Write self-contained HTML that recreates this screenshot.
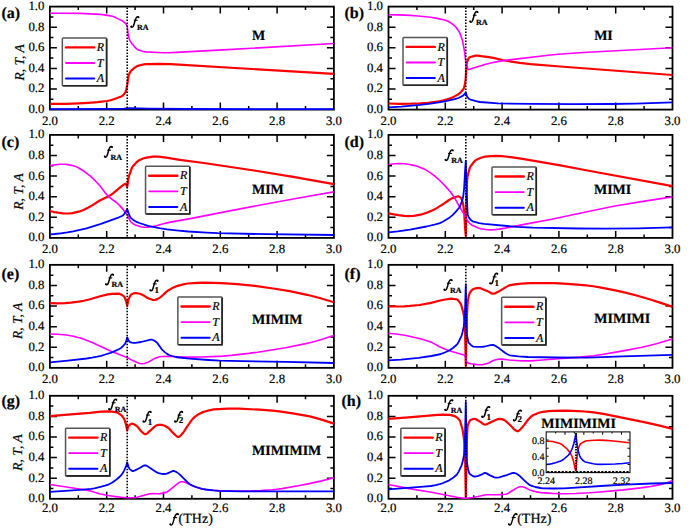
<!DOCTYPE html><html><head><meta charset="utf-8"><style>html,body{margin:0;padding:0;background:#fff;width:700px;height:528px;overflow:hidden}svg{display:block}</style></head><body>
<svg width="700" height="528" viewBox="0 0 700 528">
<style>
text{font-family:"Liberation Serif",serif;fill:#000;text-rendering:geometricPrecision;stroke:#000;stroke-width:0.2px}
.tk{font-size:12.8px}
.lg{font-size:12px;font-style:italic}
.pl{font-size:16px;font-weight:bold}
.st{font-size:14px;font-weight:bold}
.fi{font-size:14px;font-style:italic;font-weight:bold}
.sb{font-size:8px;font-weight:bold}
.sd{font-size:9px;font-weight:bold}
.sr{font-size:9px;font-weight:bold}
.yl{font-size:13.5px;font-style:italic}
.it{font-size:10px}
</style>
<rect width="700" height="528" fill="#fff"/>
<rect x="49.90" y="6.60" width="284.00" height="103.00" fill="none" stroke="#000" stroke-width="1.8"/>
<path d="M78.30,109.60v-3.50M78.30,6.60v3.50M49.90,99.30h3.50M333.90,99.30h-3.50M106.70,109.60v-7.00M106.70,6.60v7.00M49.90,89.00h7.00M333.90,89.00h-7.00M135.10,109.60v-3.50M135.10,6.60v3.50M49.90,78.70h3.50M333.90,78.70h-3.50M163.50,109.60v-7.00M163.50,6.60v7.00M49.90,68.40h7.00M333.90,68.40h-7.00M191.90,109.60v-3.50M191.90,6.60v3.50M49.90,58.10h3.50M333.90,58.10h-3.50M220.30,109.60v-7.00M220.30,6.60v7.00M49.90,47.80h7.00M333.90,47.80h-7.00M248.70,109.60v-3.50M248.70,6.60v3.50M49.90,37.50h3.50M333.90,37.50h-3.50M277.10,109.60v-7.00M277.10,6.60v7.00M49.90,27.20h7.00M333.90,27.20h-7.00M305.50,109.60v-3.50M305.50,6.60v3.50M49.90,16.90h3.50M333.90,16.90h-3.50" stroke="#000" stroke-width="1.5" fill="none"/>
<text x="44.40" y="113.00" text-anchor="end" class="tk">0.0</text>
<text x="44.40" y="92.40" text-anchor="end" class="tk">0.2</text>
<text x="44.40" y="71.80" text-anchor="end" class="tk">0.4</text>
<text x="44.40" y="51.20" text-anchor="end" class="tk">0.6</text>
<text x="44.40" y="30.60" text-anchor="end" class="tk">0.8</text>
<text x="44.40" y="10.00" text-anchor="end" class="tk">1.0</text>
<text x="49.90" y="125.00" text-anchor="middle" class="tk">2.0</text>
<text x="106.70" y="125.00" text-anchor="middle" class="tk">2.2</text>
<text x="163.50" y="125.00" text-anchor="middle" class="tk">2.4</text>
<text x="220.30" y="125.00" text-anchor="middle" class="tk">2.6</text>
<text x="277.10" y="125.00" text-anchor="middle" class="tk">2.8</text>
<text x="333.90" y="125.00" text-anchor="middle" class="tk">3.0</text>
<path d="M49.9,103.9 65.7,103.8 78.6,103.4 88.1,102.9 97.5,102.2 106.8,101.0 109.5,100.5 113.8,99.3 121.3,96.5 122.3,95.9 123.5,94.9 125.0,92.9 125.7,91.7 126.3,89.5 127.3,84.4 128.6,75.5 129.6,73.1 130.7,71.2 131.6,70.3 134.5,67.8 137.1,66.1 141.8,64.8 145.3,64.2 160.1,63.9 170.5,64.1 333.9,73.9" stroke="#ff0000" stroke-width="2.20" fill="none" stroke-linejoin="round"/>
<path d="M49.9,13.2 63.0,13.2 80.1,13.4 100.2,14.4 104.7,14.9 110.5,15.9 112.4,16.3 114.5,17.1 121.9,20.6 124.0,22.1 126.0,23.9 126.7,25.2 127.3,26.8 128.4,36.1 129.3,38.9 130.1,40.9 131.1,42.6 135.1,47.4 136.7,48.9 137.9,49.8 142.5,51.2 145.7,51.9 163.6,52.7 168.8,52.7 176.3,52.4 223.0,49.9 333.9,43.5" stroke="#ff00ff" stroke-width="1.60" fill="none" stroke-linejoin="round"/>
<path d="M49.9,109.2 109.7,108.9 123.9,108.6 129.4,108.1 148.4,108.6 187.6,109.0 269.9,109.2 333.9,109.2" stroke="#0000ff" stroke-width="1.80" fill="none" stroke-linejoin="round"/>
<path d="M127.20,7.60V108.60" stroke="#000" stroke-width="1.6" stroke-dasharray="1.5 1.5"/>
<rect x="62.35" y="37.95" width="44.3" height="47.8" fill="#fff" stroke="#555" stroke-width="1.5" rx="0.8"/>
<path d="M63.10,85.70H106.60V38.70" stroke="#222" stroke-width="1.6" fill="none"/>
<path d="M66.00,47.40H94.20" stroke="#ff0000" stroke-width="2.4" stroke-linecap="round"/>
<text x="96.80" y="51.00" class="lg">R</text>
<path d="M66.00,63.00H94.20" stroke="#ff00ff" stroke-width="1.8" stroke-linecap="round"/>
<text x="96.80" y="66.60" class="lg">T</text>
<path d="M66.00,78.60H94.20" stroke="#0000ff" stroke-width="2.0" stroke-linecap="round"/>
<text x="96.80" y="82.20" class="lg">A</text>
<text x="258.50" y="39.50" text-anchor="middle" class="st">M</text>
<text x="1.50" y="18.00" class="pl">(a)</text>
<text transform="translate(24.30,62.30) rotate(-90)" text-anchor="middle" class="yl">R, T, A</text>
<rect x="388.50" y="6.60" width="284.00" height="103.00" fill="none" stroke="#000" stroke-width="1.8"/>
<path d="M416.90,109.60v-3.50M416.90,6.60v3.50M388.50,99.30h3.50M672.50,99.30h-3.50M445.30,109.60v-7.00M445.30,6.60v7.00M388.50,89.00h7.00M672.50,89.00h-7.00M473.70,109.60v-3.50M473.70,6.60v3.50M388.50,78.70h3.50M672.50,78.70h-3.50M502.10,109.60v-7.00M502.10,6.60v7.00M388.50,68.40h7.00M672.50,68.40h-7.00M530.50,109.60v-3.50M530.50,6.60v3.50M388.50,58.10h3.50M672.50,58.10h-3.50M558.90,109.60v-7.00M558.90,6.60v7.00M388.50,47.80h7.00M672.50,47.80h-7.00M587.30,109.60v-3.50M587.30,6.60v3.50M388.50,37.50h3.50M672.50,37.50h-3.50M615.70,109.60v-7.00M615.70,6.60v7.00M388.50,27.20h7.00M672.50,27.20h-7.00M644.10,109.60v-3.50M644.10,6.60v3.50M388.50,16.90h3.50M672.50,16.90h-3.50" stroke="#000" stroke-width="1.5" fill="none"/>
<text x="383.00" y="113.00" text-anchor="end" class="tk">0.0</text>
<text x="383.00" y="92.40" text-anchor="end" class="tk">0.2</text>
<text x="383.00" y="71.80" text-anchor="end" class="tk">0.4</text>
<text x="383.00" y="51.20" text-anchor="end" class="tk">0.6</text>
<text x="383.00" y="30.60" text-anchor="end" class="tk">0.8</text>
<text x="383.00" y="10.00" text-anchor="end" class="tk">1.0</text>
<text x="388.50" y="125.00" text-anchor="middle" class="tk">2.0</text>
<text x="445.30" y="125.00" text-anchor="middle" class="tk">2.2</text>
<text x="502.10" y="125.00" text-anchor="middle" class="tk">2.4</text>
<text x="558.90" y="125.00" text-anchor="middle" class="tk">2.6</text>
<text x="615.70" y="125.00" text-anchor="middle" class="tk">2.8</text>
<text x="672.50" y="125.00" text-anchor="middle" class="tk">3.0</text>
<path d="M388.5,103.5 399.4,103.8 411.1,103.7 420.2,103.4 427.8,102.8 439.2,101.3 442.3,100.7 450.3,98.4 454.5,96.4 458.4,94.2 459.5,93.4 461.1,91.8 463.3,89.2 463.9,88.2 464.8,84.9 465.6,79.8 466.6,63.7 467.5,60.9 468.3,58.9 469.0,57.8 469.6,57.3 473.8,56.1 475.7,55.7 477.0,55.7 479.2,55.9 488.6,57.1 493.2,57.9 502.4,60.0 507.6,61.0 519.8,62.8 530.5,64.1 560.2,66.5 672.5,75.0" stroke="#ff0000" stroke-width="2.20" fill="none" stroke-linejoin="round"/>
<path d="M388.5,14.8 397.9,14.9 410.4,15.4 418.0,16.0 430.7,17.3 437.2,18.4 445.7,20.3 448.1,21.3 451.1,23.1 454.2,25.4 455.8,27.0 459.2,31.9 460.5,34.7 462.5,40.8 463.3,44.5 464.6,51.8 465.7,61.2 466.2,63.7 467.6,68.3 468.2,69.3 468.6,69.5 485.8,64.2 492.0,62.7 498.7,61.4 509.2,59.9 552.7,54.8 564.9,53.7 583.3,52.5 672.5,47.8" stroke="#ff00ff" stroke-width="1.60" fill="none" stroke-linejoin="round"/>
<path d="M388.5,107.3 401.1,106.6 420.2,104.9 430.6,103.6 443.4,101.7 452.7,99.6 456.4,98.7 458.3,98.0 460.7,96.9 463.2,95.5 464.2,94.5 465.8,92.6 466.8,95.8 467.4,97.0 468.8,98.7 469.8,99.3 476.0,101.2 479.9,102.0 498.1,103.4 530.0,103.9 573.5,104.1 610.3,104.0 635.8,103.6 672.5,102.4" stroke="#0000ff" stroke-width="1.80" fill="none" stroke-linejoin="round"/>
<path d="M465.80,7.60V108.60" stroke="#000" stroke-width="1.6" stroke-dasharray="1.5 1.5"/>
<rect x="403.00" y="37.45" width="44.3" height="47.8" fill="#fff" stroke="#555" stroke-width="1.5" rx="0.8"/>
<path d="M403.75,85.20H447.25V38.20" stroke="#222" stroke-width="1.6" fill="none"/>
<path d="M406.65,46.90H434.85" stroke="#ff0000" stroke-width="2.4" stroke-linecap="round"/>
<text x="437.45" y="50.50" class="lg">R</text>
<path d="M406.65,62.50H434.85" stroke="#ff00ff" stroke-width="1.8" stroke-linecap="round"/>
<text x="437.45" y="66.10" class="lg">T</text>
<path d="M406.65,78.10H434.85" stroke="#0000ff" stroke-width="2.0" stroke-linecap="round"/>
<text x="437.45" y="81.70" class="lg">A</text>
<text x="603.50" y="39.60" text-anchor="middle" class="st">MI</text>
<text x="344.50" y="18.00" class="pl">(b)</text>
<rect x="49.90" y="134.90" width="284.00" height="103.00" fill="none" stroke="#000" stroke-width="1.8"/>
<path d="M78.30,237.90v-3.50M78.30,134.90v3.50M49.90,227.60h3.50M333.90,227.60h-3.50M106.70,237.90v-7.00M106.70,134.90v7.00M49.90,217.30h7.00M333.90,217.30h-7.00M135.10,237.90v-3.50M135.10,134.90v3.50M49.90,207.00h3.50M333.90,207.00h-3.50M163.50,237.90v-7.00M163.50,134.90v7.00M49.90,196.70h7.00M333.90,196.70h-7.00M191.90,237.90v-3.50M191.90,134.90v3.50M49.90,186.40h3.50M333.90,186.40h-3.50M220.30,237.90v-7.00M220.30,134.90v7.00M49.90,176.10h7.00M333.90,176.10h-7.00M248.70,237.90v-3.50M248.70,134.90v3.50M49.90,165.80h3.50M333.90,165.80h-3.50M277.10,237.90v-7.00M277.10,134.90v7.00M49.90,155.50h7.00M333.90,155.50h-7.00M305.50,237.90v-3.50M305.50,134.90v3.50M49.90,145.20h3.50M333.90,145.20h-3.50" stroke="#000" stroke-width="1.5" fill="none"/>
<text x="44.40" y="241.30" text-anchor="end" class="tk">0.0</text>
<text x="44.40" y="220.70" text-anchor="end" class="tk">0.2</text>
<text x="44.40" y="200.10" text-anchor="end" class="tk">0.4</text>
<text x="44.40" y="179.50" text-anchor="end" class="tk">0.6</text>
<text x="44.40" y="158.90" text-anchor="end" class="tk">0.8</text>
<text x="44.40" y="138.30" text-anchor="end" class="tk">1.0</text>
<text x="49.90" y="253.30" text-anchor="middle" class="tk">2.0</text>
<text x="106.70" y="253.30" text-anchor="middle" class="tk">2.2</text>
<text x="163.50" y="253.30" text-anchor="middle" class="tk">2.4</text>
<text x="220.30" y="253.30" text-anchor="middle" class="tk">2.6</text>
<text x="277.10" y="253.30" text-anchor="middle" class="tk">2.8</text>
<text x="333.90" y="253.30" text-anchor="middle" class="tk">3.0</text>
<path d="M49.9,211.0 54.4,212.1 58.0,212.7 63.1,213.3 67.4,213.5 69.8,213.4 72.4,213.1 79.6,211.4 83.4,209.9 88.4,207.5 92.2,205.4 99.8,200.5 107.6,196.7 110.3,195.3 113.3,193.2 121.4,186.3 124.2,184.4 125.5,183.9 125.8,184.0 126.4,184.9 127.2,187.0 128.3,179.4 129.2,175.3 131.5,169.0 132.3,167.2 133.2,165.9 137.0,161.8 138.4,160.7 139.7,159.9 143.1,158.5 145.4,157.8 152.9,156.6 155.3,156.5 158.2,156.7 166.4,157.6 179.8,159.8 203.8,163.0 254.1,170.5 291.7,176.6 333.9,184.1" stroke="#ff0000" stroke-width="2.20" fill="none" stroke-linejoin="round"/>
<path d="M49.9,165.6 55.7,164.7 60.4,164.2 64.4,164.2 68.1,164.6 73.5,165.7 75.5,166.4 78.3,167.8 83.6,171.0 86.5,173.1 90.1,175.9 95.2,180.7 99.9,185.8 105.7,193.4 108.3,196.3 110.7,198.4 116.5,202.5 120.0,205.9 123.5,209.9 126.9,214.5 127.9,216.2 130.1,220.8 130.7,221.7 131.7,222.7 133.3,223.9 134.8,224.7 140.8,226.7 144.2,227.3 148.0,227.3 152.0,226.8 156.3,225.8 166.1,223.1 171.7,221.9 191.6,218.4 228.5,211.1 270.0,203.2 302.9,197.2 333.9,191.9" stroke="#ff00ff" stroke-width="1.60" fill="none" stroke-linejoin="round"/>
<path d="M49.9,234.4 54.7,234.0 60.7,233.3 67.4,232.4 73.2,231.3 86.6,228.3 100.2,224.2 119.0,217.3 122.4,215.8 123.4,215.0 124.4,213.8 127.2,209.1 129.2,215.0 130.5,217.6 133.3,219.9 136.6,221.9 139.3,223.0 148.1,225.8 159.3,228.1 167.1,229.3 178.6,230.6 188.3,231.5 206.5,232.7 217.7,233.2 266.1,234.2 333.9,235.0" stroke="#0000ff" stroke-width="1.80" fill="none" stroke-linejoin="round"/>
<path d="M127.20,135.90V236.90" stroke="#000" stroke-width="1.6" stroke-dasharray="1.5 1.5"/>
<rect x="145.55" y="166.25" width="44.3" height="47.8" fill="#fff" stroke="#555" stroke-width="1.5" rx="0.8"/>
<path d="M146.30,214.00H189.80V167.00" stroke="#222" stroke-width="1.6" fill="none"/>
<path d="M149.20,175.70H177.40" stroke="#ff0000" stroke-width="2.4" stroke-linecap="round"/>
<text x="180.00" y="179.30" class="lg">R</text>
<path d="M149.20,191.30H177.40" stroke="#ff00ff" stroke-width="1.8" stroke-linecap="round"/>
<text x="180.00" y="194.90" class="lg">T</text>
<path d="M149.20,206.90H177.40" stroke="#0000ff" stroke-width="2.0" stroke-linecap="round"/>
<text x="180.00" y="210.50" class="lg">A</text>
<text x="267.90" y="194.40" text-anchor="middle" class="st">MIM</text>
<text x="1.50" y="147.30" class="pl">(c)</text>
<text transform="translate(23.30,191.50) rotate(-90)" text-anchor="middle" class="yl">R, T, A</text>
<rect x="388.50" y="134.90" width="284.00" height="103.00" fill="none" stroke="#000" stroke-width="1.8"/>
<path d="M416.90,237.90v-3.50M416.90,134.90v3.50M388.50,227.60h3.50M672.50,227.60h-3.50M445.30,237.90v-7.00M445.30,134.90v7.00M388.50,217.30h7.00M672.50,217.30h-7.00M473.70,237.90v-3.50M473.70,134.90v3.50M388.50,207.00h3.50M672.50,207.00h-3.50M502.10,237.90v-7.00M502.10,134.90v7.00M388.50,196.70h7.00M672.50,196.70h-7.00M530.50,237.90v-3.50M530.50,134.90v3.50M388.50,186.40h3.50M672.50,186.40h-3.50M558.90,237.90v-7.00M558.90,134.90v7.00M388.50,176.10h7.00M672.50,176.10h-7.00M587.30,237.90v-3.50M587.30,134.90v3.50M388.50,165.80h3.50M672.50,165.80h-3.50M615.70,237.90v-7.00M615.70,134.90v7.00M388.50,155.50h7.00M672.50,155.50h-7.00M644.10,237.90v-3.50M644.10,134.90v3.50M388.50,145.20h3.50M672.50,145.20h-3.50" stroke="#000" stroke-width="1.5" fill="none"/>
<text x="383.00" y="241.30" text-anchor="end" class="tk">0.0</text>
<text x="383.00" y="220.70" text-anchor="end" class="tk">0.2</text>
<text x="383.00" y="200.10" text-anchor="end" class="tk">0.4</text>
<text x="383.00" y="179.50" text-anchor="end" class="tk">0.6</text>
<text x="383.00" y="158.90" text-anchor="end" class="tk">0.8</text>
<text x="383.00" y="138.30" text-anchor="end" class="tk">1.0</text>
<text x="388.50" y="253.30" text-anchor="middle" class="tk">2.0</text>
<text x="445.30" y="253.30" text-anchor="middle" class="tk">2.2</text>
<text x="502.10" y="253.30" text-anchor="middle" class="tk">2.4</text>
<text x="558.90" y="253.30" text-anchor="middle" class="tk">2.6</text>
<text x="615.70" y="253.30" text-anchor="middle" class="tk">2.8</text>
<text x="672.50" y="253.30" text-anchor="middle" class="tk">3.0</text>
<path d="M388.5,213.4 393.9,214.4 398.4,215.1 404.3,215.8 408.7,216.1 411.1,216.0 413.8,215.8 421.9,214.3 427.3,212.6 433.8,209.7 437.1,207.9 443.1,204.1 449.0,200.0 451.6,198.6 455.7,197.0 458.0,196.4 458.7,196.4 460.8,197.7 461.3,198.3 462.8,202.7 463.2,204.6 464.2,211.9 465.1,228.4 465.8,235.8 466.4,194.2 466.8,184.5 467.4,177.1 469.5,168.8 470.1,167.2 470.6,166.2 474.3,161.5 475.5,160.4 476.5,159.7 480.9,157.8 483.6,157.0 485.1,156.7 490.9,156.1 496.3,155.8 501.9,156.1 512.7,157.3 522.5,158.8 560.4,165.4 587.4,170.5 672.5,186.1" stroke="#ff0000" stroke-width="2.20" fill="none" stroke-linejoin="round"/>
<path d="M388.5,164.5 394.7,163.8 400.0,163.6 404.3,163.7 408.5,164.3 414.9,165.6 418.5,166.7 425.3,169.6 428.7,171.6 434.5,175.8 440.3,181.0 445.3,186.1 450.7,192.3 453.0,195.4 454.8,198.2 459.1,206.2 464.3,214.7 466.3,219.2 468.0,221.4 469.7,223.3 471.0,224.5 472.3,225.3 478.1,227.9 480.8,228.7 487.5,229.7 490.7,229.9 494.1,229.7 499.0,229.1 505.4,228.1 523.0,224.6 551.7,219.2 587.0,211.7 613.7,206.3 641.3,201.6 672.5,196.9" stroke="#ff00ff" stroke-width="1.60" fill="none" stroke-linejoin="round"/>
<path d="M388.5,232.3 397.7,231.4 410.1,229.6 426.4,226.5 435.5,224.3 439.8,223.1 442.8,221.7 449.7,217.4 452.3,215.4 455.4,212.2 459.4,207.5 460.8,204.3 462.8,198.5 463.5,194.3 464.2,187.3 465.1,170.3 465.8,160.9 466.7,192.4 467.5,211.6 467.9,214.9 468.4,216.9 470.9,220.0 471.8,220.8 472.6,221.3 479.2,223.1 484.1,223.8 517.2,226.9 532.6,227.6 578.5,228.5 605.7,228.7 638.1,228.4 672.5,227.4" stroke="#0000ff" stroke-width="1.80" fill="none" stroke-linejoin="round"/>
<path d="M465.80,135.90V236.90" stroke="#000" stroke-width="1.6" stroke-dasharray="1.5 1.5"/>
<rect x="492.00" y="167.00" width="44.3" height="47.8" fill="#fff" stroke="#555" stroke-width="1.5" rx="0.8"/>
<path d="M492.75,214.75H536.25V167.75" stroke="#222" stroke-width="1.6" fill="none"/>
<path d="M495.65,176.45H523.85" stroke="#ff0000" stroke-width="2.4" stroke-linecap="round"/>
<text x="526.45" y="180.05" class="lg">R</text>
<path d="M495.65,192.05H523.85" stroke="#ff00ff" stroke-width="1.8" stroke-linecap="round"/>
<text x="526.45" y="195.65" class="lg">T</text>
<path d="M495.65,207.65H523.85" stroke="#0000ff" stroke-width="2.0" stroke-linecap="round"/>
<text x="526.45" y="211.25" class="lg">A</text>
<text x="612.60" y="194.40" text-anchor="middle" class="st">MIMI</text>
<text x="344.50" y="147.30" class="pl">(d)</text>
<rect x="49.90" y="264.85" width="284.00" height="103.00" fill="none" stroke="#000" stroke-width="1.8"/>
<path d="M78.30,367.85v-3.50M78.30,264.85v3.50M49.90,357.55h3.50M333.90,357.55h-3.50M106.70,367.85v-7.00M106.70,264.85v7.00M49.90,347.25h7.00M333.90,347.25h-7.00M135.10,367.85v-3.50M135.10,264.85v3.50M49.90,336.95h3.50M333.90,336.95h-3.50M163.50,367.85v-7.00M163.50,264.85v7.00M49.90,326.65h7.00M333.90,326.65h-7.00M191.90,367.85v-3.50M191.90,264.85v3.50M49.90,316.35h3.50M333.90,316.35h-3.50M220.30,367.85v-7.00M220.30,264.85v7.00M49.90,306.05h7.00M333.90,306.05h-7.00M248.70,367.85v-3.50M248.70,264.85v3.50M49.90,295.75h3.50M333.90,295.75h-3.50M277.10,367.85v-7.00M277.10,264.85v7.00M49.90,285.45h7.00M333.90,285.45h-7.00M305.50,367.85v-3.50M305.50,264.85v3.50M49.90,275.15h3.50M333.90,275.15h-3.50" stroke="#000" stroke-width="1.5" fill="none"/>
<text x="44.40" y="371.25" text-anchor="end" class="tk">0.0</text>
<text x="44.40" y="350.65" text-anchor="end" class="tk">0.2</text>
<text x="44.40" y="330.05" text-anchor="end" class="tk">0.4</text>
<text x="44.40" y="309.45" text-anchor="end" class="tk">0.6</text>
<text x="44.40" y="288.85" text-anchor="end" class="tk">0.8</text>
<text x="44.40" y="268.25" text-anchor="end" class="tk">1.0</text>
<text x="49.90" y="383.25" text-anchor="middle" class="tk">2.0</text>
<text x="106.70" y="383.25" text-anchor="middle" class="tk">2.2</text>
<text x="163.50" y="383.25" text-anchor="middle" class="tk">2.4</text>
<text x="220.30" y="383.25" text-anchor="middle" class="tk">2.6</text>
<text x="277.10" y="383.25" text-anchor="middle" class="tk">2.8</text>
<text x="333.90" y="383.25" text-anchor="middle" class="tk">3.0</text>
<path d="M49.9,303.2 57.6,303.3 65.1,303.1 70.8,302.7 78.7,301.7 83.7,300.8 90.1,299.3 99.2,296.5 107.9,294.4 112.1,293.8 118.5,293.7 119.8,293.9 121.1,294.5 122.9,295.6 124.4,296.8 125.1,298.3 126.4,302.2 127.2,305.9 128.5,299.4 129.8,296.6 130.6,295.2 131.3,294.4 134.0,293.3 135.2,293.1 136.6,293.2 138.6,293.5 140.6,294.0 142.7,294.9 147.2,297.7 149.4,298.7 152.6,299.8 153.9,300.0 155.0,299.9 157.3,299.1 160.6,297.1 162.3,295.7 166.0,292.1 167.7,290.8 172.2,288.1 175.9,286.4 183.2,284.4 187.9,283.5 197.2,282.9 204.5,282.7 221.4,283.1 237.3,284.2 254.9,285.9 273.2,288.5 289.7,291.2 307.1,294.8 318.8,297.8 333.9,302.3" stroke="#ff0000" stroke-width="2.20" fill="none" stroke-linejoin="round"/>
<path d="M49.9,334.0 57.6,334.2 66.5,335.0 73.3,336.3 82.0,338.6 87.1,340.5 92.9,342.8 111.0,351.3 127.0,357.5 132.8,360.6 137.1,362.5 139.8,363.5 142.1,363.8 144.5,363.5 147.3,362.6 149.0,361.8 153.6,359.1 157.7,357.3 159.5,356.8 162.5,356.5 167.6,356.2 184.2,357.0 190.8,357.1 200.3,357.0 211.4,356.6 222.9,356.1 231.2,355.4 248.8,353.4 257.6,352.2 285.6,347.7 304.6,343.9 310.8,342.5 317.4,340.7 333.9,335.6" stroke="#ff00ff" stroke-width="1.60" fill="none" stroke-linejoin="round"/>
<path d="M49.9,362.4 67.9,360.7 86.8,358.5 92.1,357.7 97.1,356.7 101.1,355.8 105.3,354.5 110.6,352.8 114.7,351.1 118.8,349.3 121.0,347.9 123.1,346.0 125.2,343.6 126.1,341.4 127.2,337.3 128.6,340.6 129.5,341.8 131.8,342.6 133.7,342.9 135.4,342.9 141.1,342.0 150.6,339.7 151.8,339.7 152.9,340.0 154.8,341.0 156.9,342.5 158.0,343.9 161.6,349.1 164.7,352.1 167.1,353.9 169.1,355.0 172.1,356.0 175.8,357.0 178.9,357.5 189.6,358.7 208.5,360.0 219.7,360.6 242.3,361.2 285.3,361.9 333.9,363.0" stroke="#0000ff" stroke-width="1.80" fill="none" stroke-linejoin="round"/>
<path d="M127.20,265.85V366.85" stroke="#000" stroke-width="1.6" stroke-dasharray="1.5 1.5"/>
<rect x="177.85" y="297.00" width="44.3" height="47.8" fill="#fff" stroke="#555" stroke-width="1.5" rx="0.8"/>
<path d="M178.60,344.75H222.10V297.75" stroke="#222" stroke-width="1.6" fill="none"/>
<path d="M181.50,306.45H209.70" stroke="#ff0000" stroke-width="2.4" stroke-linecap="round"/>
<text x="212.30" y="310.05" class="lg">R</text>
<path d="M181.50,322.05H209.70" stroke="#ff00ff" stroke-width="1.8" stroke-linecap="round"/>
<text x="212.30" y="325.65" class="lg">T</text>
<path d="M181.50,337.65H209.70" stroke="#0000ff" stroke-width="2.0" stroke-linecap="round"/>
<text x="212.30" y="341.25" class="lg">A</text>
<text x="277.30" y="324.00" text-anchor="middle" class="st">MIMIM</text>
<text x="1.50" y="279.10" class="pl">(e)</text>
<text transform="translate(21.50,320.90) rotate(-90)" text-anchor="middle" class="yl">R, T, A</text>
<rect x="388.50" y="264.85" width="284.00" height="103.00" fill="none" stroke="#000" stroke-width="1.8"/>
<path d="M416.90,367.85v-3.50M416.90,264.85v3.50M388.50,357.55h3.50M672.50,357.55h-3.50M445.30,367.85v-7.00M445.30,264.85v7.00M388.50,347.25h7.00M672.50,347.25h-7.00M473.70,367.85v-3.50M473.70,264.85v3.50M388.50,336.95h3.50M672.50,336.95h-3.50M502.10,367.85v-7.00M502.10,264.85v7.00M388.50,326.65h7.00M672.50,326.65h-7.00M530.50,367.85v-3.50M530.50,264.85v3.50M388.50,316.35h3.50M672.50,316.35h-3.50M558.90,367.85v-7.00M558.90,264.85v7.00M388.50,306.05h7.00M672.50,306.05h-7.00M587.30,367.85v-3.50M587.30,264.85v3.50M388.50,295.75h3.50M672.50,295.75h-3.50M615.70,367.85v-7.00M615.70,264.85v7.00M388.50,285.45h7.00M672.50,285.45h-7.00M644.10,367.85v-3.50M644.10,264.85v3.50M388.50,275.15h3.50M672.50,275.15h-3.50" stroke="#000" stroke-width="1.5" fill="none"/>
<text x="383.00" y="371.25" text-anchor="end" class="tk">0.0</text>
<text x="383.00" y="350.65" text-anchor="end" class="tk">0.2</text>
<text x="383.00" y="330.05" text-anchor="end" class="tk">0.4</text>
<text x="383.00" y="309.45" text-anchor="end" class="tk">0.6</text>
<text x="383.00" y="288.85" text-anchor="end" class="tk">0.8</text>
<text x="383.00" y="268.25" text-anchor="end" class="tk">1.0</text>
<text x="388.50" y="383.25" text-anchor="middle" class="tk">2.0</text>
<text x="445.30" y="383.25" text-anchor="middle" class="tk">2.2</text>
<text x="502.10" y="383.25" text-anchor="middle" class="tk">2.4</text>
<text x="558.90" y="383.25" text-anchor="middle" class="tk">2.6</text>
<text x="615.70" y="383.25" text-anchor="middle" class="tk">2.8</text>
<text x="672.50" y="383.25" text-anchor="middle" class="tk">3.0</text>
<path d="M388.5,306.4 396.5,306.5 404.1,306.3 410.2,305.9 419.2,305.0 424.3,304.2 430.1,303.1 440.2,300.5 445.3,299.5 449.6,298.8 451.6,298.7 453.9,299.0 456.7,299.4 457.6,299.9 458.6,300.9 460.4,303.3 461.0,304.4 463.2,312.0 464.0,316.2 464.7,322.7 465.0,328.3 465.8,365.8 466.8,318.5 467.4,306.8 467.8,301.1 468.9,295.3 469.8,292.8 471.8,290.3 472.8,289.4 473.5,289.0 475.6,288.4 478.3,287.9 480.9,288.4 487.1,290.9 491.4,293.3 492.4,293.7 493.2,293.7 495.2,293.3 498.6,291.6 505.0,287.6 509.1,285.4 514.7,284.4 521.6,283.6 530.0,283.1 553.9,283.2 567.8,283.8 583.4,285.1 591.7,286.0 599.9,287.3 616.5,290.6 625.3,292.6 636.6,295.5 649.5,299.2 660.1,302.6 672.5,306.9" stroke="#ff0000" stroke-width="2.20" fill="none" stroke-linejoin="round"/>
<path d="M388.5,333.3 396.2,334.0 406.0,335.5 421.2,339.0 428.5,341.2 432.1,342.6 439.1,346.5 445.3,349.2 451.0,351.2 464.8,355.3 465.2,355.9 465.7,357.4 466.3,361.7 466.5,362.0 467.9,362.8 469.3,363.4 470.9,363.7 477.2,364.6 479.9,364.8 482.5,364.6 485.5,364.0 489.3,362.7 492.7,360.7 494.0,360.2 497.1,359.5 499.7,359.1 502.2,359.1 509.3,360.0 519.4,360.7 525.2,360.9 530.4,360.9 539.3,360.3 558.2,358.7 580.2,357.1 593.5,355.8 602.2,354.5 623.1,350.9 642.0,347.3 648.5,345.8 655.5,344.0 672.5,339.0" stroke="#ff00ff" stroke-width="1.60" fill="none" stroke-linejoin="round"/>
<path d="M388.5,360.3 401.0,359.6 418.5,357.9 431.3,356.0 438.7,354.5 440.8,354.0 443.1,353.2 449.7,350.2 452.9,348.0 456.7,344.7 457.6,343.6 458.6,342.0 461.5,335.8 462.5,332.4 463.8,326.4 464.4,320.0 465.1,307.6 465.8,284.4 466.4,318.3 466.9,334.3 467.9,340.1 468.6,342.7 471.5,345.6 473.0,346.6 478.3,346.9 482.3,346.8 484.7,346.5 490.5,345.1 493.2,344.9 494.4,345.3 495.6,346.0 499.5,348.6 504.9,352.8 507.4,354.3 509.0,355.0 510.0,355.3 518.4,356.3 528.0,357.0 555.9,357.5 587.1,357.6 622.9,356.3 672.5,354.9" stroke="#0000ff" stroke-width="1.80" fill="none" stroke-linejoin="round"/>
<path d="M465.80,265.85V366.85" stroke="#000" stroke-width="1.6" stroke-dasharray="1.5 1.5"/>
<rect x="501.65" y="297.25" width="44.3" height="47.8" fill="#fff" stroke="#555" stroke-width="1.5" rx="0.8"/>
<path d="M502.40,345.00H545.90V298.00" stroke="#222" stroke-width="1.6" fill="none"/>
<path d="M505.30,306.70H533.50" stroke="#ff0000" stroke-width="2.4" stroke-linecap="round"/>
<text x="536.10" y="310.30" class="lg">R</text>
<path d="M505.30,322.30H533.50" stroke="#ff00ff" stroke-width="1.8" stroke-linecap="round"/>
<text x="536.10" y="325.90" class="lg">T</text>
<path d="M505.30,337.90H533.50" stroke="#0000ff" stroke-width="2.0" stroke-linecap="round"/>
<text x="536.10" y="341.50" class="lg">A</text>
<text x="622.30" y="323.40" text-anchor="middle" class="st">MIMIMI</text>
<text x="344.50" y="279.10" class="pl">(f)</text>
<rect x="49.90" y="395.80" width="284.00" height="103.00" fill="none" stroke="#000" stroke-width="1.8"/>
<path d="M78.30,498.80v-3.50M78.30,395.80v3.50M49.90,488.50h3.50M333.90,488.50h-3.50M106.70,498.80v-7.00M106.70,395.80v7.00M49.90,478.20h7.00M333.90,478.20h-7.00M135.10,498.80v-3.50M135.10,395.80v3.50M49.90,467.90h3.50M333.90,467.90h-3.50M163.50,498.80v-7.00M163.50,395.80v7.00M49.90,457.60h7.00M333.90,457.60h-7.00M191.90,498.80v-3.50M191.90,395.80v3.50M49.90,447.30h3.50M333.90,447.30h-3.50M220.30,498.80v-7.00M220.30,395.80v7.00M49.90,437.00h7.00M333.90,437.00h-7.00M248.70,498.80v-3.50M248.70,395.80v3.50M49.90,426.70h3.50M333.90,426.70h-3.50M277.10,498.80v-7.00M277.10,395.80v7.00M49.90,416.40h7.00M333.90,416.40h-7.00M305.50,498.80v-3.50M305.50,395.80v3.50M49.90,406.10h3.50M333.90,406.10h-3.50" stroke="#000" stroke-width="1.5" fill="none"/>
<text x="44.40" y="502.20" text-anchor="end" class="tk">0.0</text>
<text x="44.40" y="481.60" text-anchor="end" class="tk">0.2</text>
<text x="44.40" y="461.00" text-anchor="end" class="tk">0.4</text>
<text x="44.40" y="440.40" text-anchor="end" class="tk">0.6</text>
<text x="44.40" y="419.80" text-anchor="end" class="tk">0.8</text>
<text x="44.40" y="399.20" text-anchor="end" class="tk">1.0</text>
<text x="49.90" y="512.40" text-anchor="middle" class="tk">2.0</text>
<text x="106.70" y="512.40" text-anchor="middle" class="tk">2.2</text>
<text x="163.50" y="512.40" text-anchor="middle" class="tk">2.4</text>
<text x="220.30" y="512.40" text-anchor="middle" class="tk">2.6</text>
<text x="277.10" y="512.40" text-anchor="middle" class="tk">2.8</text>
<text x="333.90" y="512.40" text-anchor="middle" class="tk">3.0</text>
<path d="M49.9,416.2 67.5,414.6 90.1,412.9 100.9,411.7 109.4,411.4 113.6,411.8 116.7,412.3 118.0,412.8 121.4,415.3 122.5,416.5 124.1,419.0 124.8,420.6 126.2,425.5 127.2,430.3 128.2,426.8 128.8,425.6 130.9,424.0 131.8,423.7 132.5,423.7 134.6,424.5 136.7,426.0 138.1,427.3 140.7,430.8 142.7,432.7 144.4,434.0 145.1,434.2 145.7,434.2 146.5,433.8 147.5,433.1 154.1,427.1 155.8,425.8 157.0,425.3 158.5,424.9 160.0,424.8 161.6,424.9 163.0,425.2 164.6,425.7 167.8,427.5 169.3,428.8 172.5,432.4 175.8,435.5 177.2,436.6 178.3,436.9 179.2,436.7 180.2,436.1 182.9,433.1 184.0,431.5 186.6,427.4 191.3,420.6 193.1,418.4 195.7,416.2 199.1,413.9 202.1,412.4 209.2,410.3 213.7,409.4 228.6,408.7 239.1,408.7 259.7,409.7 272.5,410.6 279.3,411.3 292.8,413.3 309.8,416.4 320.0,419.1 333.9,423.6" stroke="#ff0000" stroke-width="2.20" fill="none" stroke-linejoin="round"/>
<path d="M49.9,484.5 77.9,488.7 86.4,490.1 91.4,491.2 99.3,493.7 108.3,495.5 115.5,496.6 121.3,497.3 127.4,497.7 131.6,497.8 134.8,497.6 137.1,497.3 147.6,494.3 150.2,493.7 152.3,493.5 157.3,493.7 159.7,493.6 162.9,493.1 165.9,492.4 167.3,491.7 168.9,490.7 178.6,482.9 180.1,482.1 181.5,481.7 183.1,481.8 184.9,482.3 187.4,483.3 191.0,485.2 196.9,487.6 200.0,488.6 202.7,489.2 213.2,490.3 222.1,490.9 237.8,491.1 250.8,490.9 260.6,490.5 271.6,489.8 276.4,489.3 281.9,488.6 298.3,485.7 309.2,483.6 321.7,480.9 333.9,477.8" stroke="#ff00ff" stroke-width="1.60" fill="none" stroke-linejoin="round"/>
<path d="M49.9,491.9 80.0,489.9 91.0,488.9 94.5,488.3 101.3,486.7 105.0,485.6 108.9,484.3 112.0,482.7 116.8,479.3 119.1,477.3 121.4,474.9 122.8,473.0 124.1,470.6 126.1,466.0 127.2,462.5 128.5,466.6 129.3,468.6 129.8,469.1 131.3,470.4 132.7,471.1 133.5,471.0 135.0,470.4 139.7,468.0 143.1,465.9 144.1,465.5 145.1,465.3 146.2,465.5 147.5,466.2 156.9,472.4 158.6,473.1 160.7,473.7 163.4,474.0 166.0,473.8 167.5,473.4 172.2,471.2 173.5,471.0 174.8,471.2 176.6,472.1 179.6,474.4 187.4,482.2 190.0,484.3 193.0,485.8 196.1,487.0 202.2,488.8 205.8,489.5 213.2,490.4 218.3,490.8 240.3,491.3 333.9,491.4" stroke="#0000ff" stroke-width="1.80" fill="none" stroke-linejoin="round"/>
<path d="M127.20,396.80V497.80" stroke="#000" stroke-width="1.6" stroke-dasharray="1.5 1.5"/>
<rect x="65.55" y="428.15" width="44.3" height="47.8" fill="#fff" stroke="#555" stroke-width="1.5" rx="0.8"/>
<path d="M66.30,475.90H109.80V428.90" stroke="#222" stroke-width="1.6" fill="none"/>
<path d="M69.20,437.60H97.40" stroke="#ff0000" stroke-width="2.4" stroke-linecap="round"/>
<text x="100.00" y="441.20" class="lg">R</text>
<path d="M69.20,453.20H97.40" stroke="#ff00ff" stroke-width="1.8" stroke-linecap="round"/>
<text x="100.00" y="456.80" class="lg">T</text>
<path d="M69.20,468.80H97.40" stroke="#0000ff" stroke-width="2.0" stroke-linecap="round"/>
<text x="100.00" y="472.40" class="lg">A</text>
<text x="286.70" y="455.40" text-anchor="middle" class="st">MIMIMIM</text>
<text x="1.50" y="406.20" class="pl">(g)</text>
<text transform="translate(22.30,452.50) rotate(-90)" text-anchor="middle" class="yl">R, T, A</text>
<rect x="388.50" y="395.80" width="284.00" height="103.00" fill="none" stroke="#000" stroke-width="1.8"/>
<path d="M416.90,498.80v-3.50M416.90,395.80v3.50M388.50,488.50h3.50M672.50,488.50h-3.50M445.30,498.80v-7.00M445.30,395.80v7.00M388.50,478.20h7.00M672.50,478.20h-7.00M473.70,498.80v-3.50M473.70,395.80v3.50M388.50,467.90h3.50M672.50,467.90h-3.50M502.10,498.80v-7.00M502.10,395.80v7.00M388.50,457.60h7.00M672.50,457.60h-7.00M530.50,498.80v-3.50M530.50,395.80v3.50M388.50,447.30h3.50M672.50,447.30h-3.50M558.90,498.80v-7.00M558.90,395.80v7.00M388.50,437.00h7.00M672.50,437.00h-7.00M587.30,498.80v-3.50M587.30,395.80v3.50M388.50,426.70h3.50M672.50,426.70h-3.50M615.70,498.80v-7.00M615.70,395.80v7.00M388.50,416.40h7.00M672.50,416.40h-7.00M644.10,498.80v-3.50M644.10,395.80v3.50M388.50,406.10h3.50M672.50,406.10h-3.50" stroke="#000" stroke-width="1.5" fill="none"/>
<text x="383.00" y="502.20" text-anchor="end" class="tk">0.0</text>
<text x="383.00" y="481.60" text-anchor="end" class="tk">0.2</text>
<text x="383.00" y="461.00" text-anchor="end" class="tk">0.4</text>
<text x="383.00" y="440.40" text-anchor="end" class="tk">0.6</text>
<text x="383.00" y="419.80" text-anchor="end" class="tk">0.8</text>
<text x="383.00" y="399.20" text-anchor="end" class="tk">1.0</text>
<text x="388.50" y="512.40" text-anchor="middle" class="tk">2.0</text>
<text x="445.30" y="512.40" text-anchor="middle" class="tk">2.2</text>
<text x="502.10" y="512.40" text-anchor="middle" class="tk">2.4</text>
<text x="558.90" y="512.40" text-anchor="middle" class="tk">2.6</text>
<text x="615.70" y="512.40" text-anchor="middle" class="tk">2.8</text>
<text x="672.50" y="512.40" text-anchor="middle" class="tk">3.0</text>
<path d="M388.5,418.8 408.4,417.4 437.7,414.9 442.9,414.6 449.2,414.8 451.3,415.1 455.3,416.4 456.6,417.2 458.0,418.5 459.4,420.0 460.0,421.0 462.3,428.6 463.1,432.9 464.2,441.1 465.1,459.2 465.8,496.7 466.8,443.3 467.1,434.6 467.5,427.3 467.8,424.9 469.8,420.8 470.5,420.0 473.2,419.0 474.6,418.8 475.9,419.2 480.4,421.9 483.4,424.1 484.3,424.5 485.0,424.6 486.0,424.5 487.1,424.1 495.1,420.2 497.5,419.2 499.6,418.8 501.7,419.1 503.9,419.9 505.3,420.8 510.3,425.3 514.8,429.9 516.4,430.9 517.7,431.3 518.9,430.8 520.5,429.3 523.9,425.4 528.2,419.5 531.0,416.7 533.4,415.0 539.1,412.7 542.7,411.8 548.9,411.1 552.9,410.8 566.0,410.7 577.9,411.1 584.6,411.5 591.7,412.2 600.3,413.4 605.9,414.3 646.4,422.6 658.6,425.4 672.5,428.9" stroke="#ff0000" stroke-width="2.20" fill="none" stroke-linejoin="round"/>
<path d="M388.5,484.5 407.8,488.4 431.5,492.2 456.9,497.3 461.9,498.0 466.3,498.1 469.3,498.0 472.8,497.5 478.0,496.5 483.5,495.2 486.1,494.7 499.4,494.6 506.2,494.2 508.3,493.3 512.5,490.5 517.0,487.9 518.9,487.0 520.4,486.7 522.3,486.8 524.8,487.5 529.8,489.9 531.4,490.5 536.7,491.9 540.9,492.6 552.1,493.4 560.0,493.7 565.6,493.8 575.9,493.5 589.4,492.8 600.1,492.0 623.4,489.9 640.8,487.9 650.6,486.5 659.2,484.9 664.7,483.4 672.5,480.7" stroke="#ff00ff" stroke-width="1.60" fill="none" stroke-linejoin="round"/>
<path d="M388.5,489.4 423.6,486.7 431.0,486.0 435.7,485.2 439.8,484.2 441.9,483.5 449.3,480.3 452.7,478.1 456.9,474.5 458.7,471.6 461.5,465.6 462.7,461.4 464.0,455.2 464.8,444.6 465.8,402.0 466.5,447.5 466.9,462.5 468.2,469.7 468.8,471.9 469.4,473.4 469.8,473.9 472.8,475.9 473.9,476.5 475.2,476.7 478.2,475.9 481.3,474.7 484.0,473.2 485.0,472.9 486.5,473.4 490.0,475.4 493.8,477.1 495.5,477.6 497.2,477.6 499.2,477.3 501.5,476.7 506.7,475.1 512.0,473.2 513.5,472.9 514.5,473.0 516.5,473.7 519.6,475.8 524.0,480.2 527.0,482.9 528.7,484.3 530.0,485.2 532.6,486.2 535.4,487.0 540.4,488.0 542.8,488.3 554.6,488.5 564.3,488.4 575.8,487.7 608.7,485.5 624.6,484.6 652.0,483.5 672.5,483.0" stroke="#0000ff" stroke-width="1.80" fill="none" stroke-linejoin="round"/>
<path d="M465.80,396.80V497.80" stroke="#000" stroke-width="1.6" stroke-dasharray="1.5 1.5"/>
<rect x="400.85" y="428.15" width="44.3" height="47.8" fill="#fff" stroke="#555" stroke-width="1.5" rx="0.8"/>
<path d="M401.60,475.90H445.10V428.90" stroke="#222" stroke-width="1.6" fill="none"/>
<path d="M404.50,437.60H432.70" stroke="#ff0000" stroke-width="2.4" stroke-linecap="round"/>
<text x="435.30" y="441.20" class="lg">R</text>
<path d="M404.50,453.20H432.70" stroke="#ff00ff" stroke-width="1.8" stroke-linecap="round"/>
<text x="435.30" y="456.80" class="lg">T</text>
<path d="M404.50,468.80H432.70" stroke="#0000ff" stroke-width="2.0" stroke-linecap="round"/>
<text x="435.30" y="472.40" class="lg">A</text>
<text x="578.60" y="427.50" text-anchor="middle" class="st">MIMIMIMI</text>
<text x="341.50" y="406.20" class="pl">(h)</text>
<g transform="translate(130.30,27.90)"><path d="M0.8,-1.2 C1.0,-0.4 2.2,-0.4 2.9,-1.5 C3.8,-3.0 4.4,-6.2 5.1,-8.3 C5.8,-10.3 6.6,-11.3 7.7,-11.2 C8.2,-11.1 8.4,-10.8 8.3,-10.5" stroke="#000" stroke-width="1.5" fill="none" stroke-linecap="round"/><circle cx="0.95" cy="-1.45" r="0.9"/><circle cx="8.15" cy="-10.65" r="0.85"/><path d="M3.5,-7.6H7.3" stroke="#000" stroke-width="1.1"/></g><text x="136.90" y="29.60" class="sb">RA</text>
<g transform="translate(469.30,22.80)"><path d="M0.8,-1.2 C1.0,-0.4 2.2,-0.4 2.9,-1.5 C3.8,-3.0 4.4,-6.2 5.1,-8.3 C5.8,-10.3 6.6,-11.3 7.7,-11.2 C8.2,-11.1 8.4,-10.8 8.3,-10.5" stroke="#000" stroke-width="1.5" fill="none" stroke-linecap="round"/><circle cx="0.95" cy="-1.45" r="0.9"/><circle cx="8.15" cy="-10.65" r="0.85"/><path d="M3.5,-7.6H7.3" stroke="#000" stroke-width="1.1"/></g><text x="475.90" y="24.50" class="sb">RA</text>
<g transform="translate(103.80,157.80)"><path d="M0.8,-1.2 C1.0,-0.4 2.2,-0.4 2.9,-1.5 C3.8,-3.0 4.4,-6.2 5.1,-8.3 C5.8,-10.3 6.6,-11.3 7.7,-11.2 C8.2,-11.1 8.4,-10.8 8.3,-10.5" stroke="#000" stroke-width="1.5" fill="none" stroke-linecap="round"/><circle cx="0.95" cy="-1.45" r="0.9"/><circle cx="8.15" cy="-10.65" r="0.85"/><path d="M3.5,-7.6H7.3" stroke="#000" stroke-width="1.1"/></g><text x="110.40" y="159.50" class="sb">RA</text>
<g transform="translate(444.60,161.10)"><path d="M0.8,-1.2 C1.0,-0.4 2.2,-0.4 2.9,-1.5 C3.8,-3.0 4.4,-6.2 5.1,-8.3 C5.8,-10.3 6.6,-11.3 7.7,-11.2 C8.2,-11.1 8.4,-10.8 8.3,-10.5" stroke="#000" stroke-width="1.5" fill="none" stroke-linecap="round"/><circle cx="0.95" cy="-1.45" r="0.9"/><circle cx="8.15" cy="-10.65" r="0.85"/><path d="M3.5,-7.6H7.3" stroke="#000" stroke-width="1.1"/></g><text x="451.20" y="162.80" class="sb">RA</text>
<g transform="translate(105.00,285.50)"><path d="M0.8,-1.2 C1.0,-0.4 2.2,-0.4 2.9,-1.5 C3.8,-3.0 4.4,-6.2 5.1,-8.3 C5.8,-10.3 6.6,-11.3 7.7,-11.2 C8.2,-11.1 8.4,-10.8 8.3,-10.5" stroke="#000" stroke-width="1.5" fill="none" stroke-linecap="round"/><circle cx="0.95" cy="-1.45" r="0.9"/><circle cx="8.15" cy="-10.65" r="0.85"/><path d="M3.5,-7.6H7.3" stroke="#000" stroke-width="1.1"/></g><text x="111.60" y="287.20" class="sb">RA</text>
<g transform="translate(443.50,290.90)"><path d="M0.8,-1.2 C1.0,-0.4 2.2,-0.4 2.9,-1.5 C3.8,-3.0 4.4,-6.2 5.1,-8.3 C5.8,-10.3 6.6,-11.3 7.7,-11.2 C8.2,-11.1 8.4,-10.8 8.3,-10.5" stroke="#000" stroke-width="1.5" fill="none" stroke-linecap="round"/><circle cx="0.95" cy="-1.45" r="0.9"/><circle cx="8.15" cy="-10.65" r="0.85"/><path d="M3.5,-7.6H7.3" stroke="#000" stroke-width="1.1"/></g><text x="450.10" y="292.60" class="sb">RA</text>
<g transform="translate(108.20,410.40)"><path d="M0.8,-1.2 C1.0,-0.4 2.2,-0.4 2.9,-1.5 C3.8,-3.0 4.4,-6.2 5.1,-8.3 C5.8,-10.3 6.6,-11.3 7.7,-11.2 C8.2,-11.1 8.4,-10.8 8.3,-10.5" stroke="#000" stroke-width="1.5" fill="none" stroke-linecap="round"/><circle cx="0.95" cy="-1.45" r="0.9"/><circle cx="8.15" cy="-10.65" r="0.85"/><path d="M3.5,-7.6H7.3" stroke="#000" stroke-width="1.1"/></g><text x="114.80" y="412.10" class="sb">RA</text>
<g transform="translate(444.20,411.10)"><path d="M0.8,-1.2 C1.0,-0.4 2.2,-0.4 2.9,-1.5 C3.8,-3.0 4.4,-6.2 5.1,-8.3 C5.8,-10.3 6.6,-11.3 7.7,-11.2 C8.2,-11.1 8.4,-10.8 8.3,-10.5" stroke="#000" stroke-width="1.5" fill="none" stroke-linecap="round"/><circle cx="0.95" cy="-1.45" r="0.9"/><circle cx="8.15" cy="-10.65" r="0.85"/><path d="M3.5,-7.6H7.3" stroke="#000" stroke-width="1.1"/></g><text x="450.80" y="412.80" class="sb">RA</text>
<g transform="translate(149.40,291.50)"><path d="M0.8,-1.2 C1.0,-0.4 2.2,-0.4 2.9,-1.5 C3.8,-3.0 4.4,-6.2 5.1,-8.3 C5.8,-10.3 6.6,-11.3 7.7,-11.2 C8.2,-11.1 8.4,-10.8 8.3,-10.5" stroke="#000" stroke-width="1.5" fill="none" stroke-linecap="round"/><circle cx="0.95" cy="-1.45" r="0.9"/><circle cx="8.15" cy="-10.65" r="0.85"/><path d="M3.5,-7.6H7.3" stroke="#000" stroke-width="1.1"/></g><text x="154.60" y="293.30" class="sd">1</text>
<g transform="translate(489.20,284.50)"><path d="M0.8,-1.2 C1.0,-0.4 2.2,-0.4 2.9,-1.5 C3.8,-3.0 4.4,-6.2 5.1,-8.3 C5.8,-10.3 6.6,-11.3 7.7,-11.2 C8.2,-11.1 8.4,-10.8 8.3,-10.5" stroke="#000" stroke-width="1.5" fill="none" stroke-linecap="round"/><circle cx="0.95" cy="-1.45" r="0.9"/><circle cx="8.15" cy="-10.65" r="0.85"/><path d="M3.5,-7.6H7.3" stroke="#000" stroke-width="1.1"/></g><text x="494.40" y="286.30" class="sd">1</text>
<g transform="translate(142.50,422.70)"><path d="M0.8,-1.2 C1.0,-0.4 2.2,-0.4 2.9,-1.5 C3.8,-3.0 4.4,-6.2 5.1,-8.3 C5.8,-10.3 6.6,-11.3 7.7,-11.2 C8.2,-11.1 8.4,-10.8 8.3,-10.5" stroke="#000" stroke-width="1.5" fill="none" stroke-linecap="round"/><circle cx="0.95" cy="-1.45" r="0.9"/><circle cx="8.15" cy="-10.65" r="0.85"/><path d="M3.5,-7.6H7.3" stroke="#000" stroke-width="1.1"/></g><text x="147.70" y="424.50" class="sd">1</text>
<g transform="translate(481.20,417.90)"><path d="M0.8,-1.2 C1.0,-0.4 2.2,-0.4 2.9,-1.5 C3.8,-3.0 4.4,-6.2 5.1,-8.3 C5.8,-10.3 6.6,-11.3 7.7,-11.2 C8.2,-11.1 8.4,-10.8 8.3,-10.5" stroke="#000" stroke-width="1.5" fill="none" stroke-linecap="round"/><circle cx="0.95" cy="-1.45" r="0.9"/><circle cx="8.15" cy="-10.65" r="0.85"/><path d="M3.5,-7.6H7.3" stroke="#000" stroke-width="1.1"/></g><text x="486.40" y="419.70" class="sd">1</text>
<g transform="translate(174.10,422.70)"><path d="M0.8,-1.2 C1.0,-0.4 2.2,-0.4 2.9,-1.5 C3.8,-3.0 4.4,-6.2 5.1,-8.3 C5.8,-10.3 6.6,-11.3 7.7,-11.2 C8.2,-11.1 8.4,-10.8 8.3,-10.5" stroke="#000" stroke-width="1.5" fill="none" stroke-linecap="round"/><circle cx="0.95" cy="-1.45" r="0.9"/><circle cx="8.15" cy="-10.65" r="0.85"/><path d="M3.5,-7.6H7.3" stroke="#000" stroke-width="1.1"/></g><text x="178.70" y="423.30" class="sd">2</text>
<g transform="translate(512.80,421.40)"><path d="M0.8,-1.2 C1.0,-0.4 2.2,-0.4 2.9,-1.5 C3.8,-3.0 4.4,-6.2 5.1,-8.3 C5.8,-10.3 6.6,-11.3 7.7,-11.2 C8.2,-11.1 8.4,-10.8 8.3,-10.5" stroke="#000" stroke-width="1.5" fill="none" stroke-linecap="round"/><circle cx="0.95" cy="-1.45" r="0.9"/><circle cx="8.15" cy="-10.65" r="0.85"/><path d="M3.5,-7.6H7.3" stroke="#000" stroke-width="1.1"/></g><text x="517.40" y="422.00" class="sd">2</text>
<rect x="546.20" y="431.90" width="83.80" height="40.70" fill="#fff" stroke="none"/>
<path d="M546.4,441.2 549.4,441.2 552.6,441.5 556.2,442.4 560.1,443.6 561.3,444.2 562.6,445.1 567.1,449.0 568.7,450.9 570.5,453.3 571.8,456.0 573.6,461.3 575.1,468.9 575.6,470.2 576.0,471.0" stroke="#ff0000" stroke-width="1.60" fill="none"/>
<path d="M576.0,471.0 576.8,459.5 577.6,452.6 578.2,449.3 579.2,446.2 580.3,444.1 580.8,443.6 584.1,441.7 585.7,441.0 587.0,440.7 594.6,440.2 598.9,440.1 605.6,440.4 613.4,441.0 629.6,442.8" stroke="#ff0000" stroke-width="1.60" fill="none"/>
<path d="M546.4,464.4 549.1,464.2 552.1,463.6 555.5,462.7 560.7,460.9 562.2,460.2 563.8,459.1 568.3,455.3 569.5,453.8 570.9,451.3 571.8,449.5 572.6,447.6 573.9,443.2 576.0,433.5" stroke="#0000ff" stroke-width="1.60" fill="none"/>
<path d="M576.0,433.5 576.5,439.7 577.3,445.9 578.2,450.6 579.0,453.5 579.8,456.0 580.6,457.7 583.0,460.3 584.6,461.6 585.4,462.0 593.2,463.7 596.5,464.2 599.4,464.4 607.5,464.3 615.3,464.0 622.6,463.5 629.6,462.8" stroke="#0000ff" stroke-width="1.60" fill="none"/>
<rect x="546.20" y="431.90" width="83.80" height="40.70" fill="none" stroke="#111" stroke-width="1.1"/>
<path d="M546.20,464.46h2.5M630.00,464.46h-2.5M546.20,456.32h2.5M630.00,456.32h-2.5M546.20,448.18h2.5M630.00,448.18h-2.5M546.20,440.04h2.5M630.00,440.04h-2.5M555.61,431.90v1.60M565.02,431.90v2.80M574.43,431.90v1.60M583.84,431.90v2.80M593.25,431.90v1.60M602.66,431.90v2.80M612.07,431.90v1.60M621.48,431.90v2.80" stroke="#111" stroke-width="1.1" fill="none"/>
<path d="M547.20,472.00H629.00" stroke="#000" stroke-width="2.2" stroke-dasharray="2.2 1.4"/>
<path d="M576.00,432.90V471.60" stroke="#000" stroke-width="1.8" stroke-dasharray="1.5 1.2"/>
<text x="544.40" y="443.70" text-anchor="end" class="it">0.8</text>
<text x="544.40" y="459.60" text-anchor="end" class="it">0.4</text>
<text x="544.40" y="476.40" text-anchor="end" class="it">0.0</text>
<text x="546.20" y="484.0" text-anchor="middle" class="it">2.24</text>
<text x="583.85" y="484.0" text-anchor="middle" class="it">2.28</text>
<text x="621.50" y="484.0" text-anchor="middle" class="it">2.32</text>
<g transform="translate(169.30,525.7) scale(1.07)"><path d="M0.8,-1.2 C1.0,-0.4 2.2,-0.4 2.9,-1.5 C3.8,-3.0 4.4,-6.2 5.1,-8.3 C5.8,-10.3 6.6,-11.3 7.7,-11.2 C8.2,-11.1 8.4,-10.8 8.3,-10.5" stroke="#000" stroke-width="1.3" fill="none" stroke-linecap="round"/><circle cx="0.95" cy="-1.45" r="0.8"/><circle cx="8.15" cy="-10.65" r="0.8"/><path d="M3.5,-7.6H7.3" stroke="#000" stroke-width="1.0"/></g>
<text x="178.60" y="522.9" class="tk" style="font-size:14px">(THz)</text>
<g transform="translate(507.90,525.7) scale(1.07)"><path d="M0.8,-1.2 C1.0,-0.4 2.2,-0.4 2.9,-1.5 C3.8,-3.0 4.4,-6.2 5.1,-8.3 C5.8,-10.3 6.6,-11.3 7.7,-11.2 C8.2,-11.1 8.4,-10.8 8.3,-10.5" stroke="#000" stroke-width="1.3" fill="none" stroke-linecap="round"/><circle cx="0.95" cy="-1.45" r="0.8"/><circle cx="8.15" cy="-10.65" r="0.8"/><path d="M3.5,-7.6H7.3" stroke="#000" stroke-width="1.0"/></g>
<text x="517.20" y="522.9" class="tk" style="font-size:14px">(THz)</text>
</svg>
</body></html>
